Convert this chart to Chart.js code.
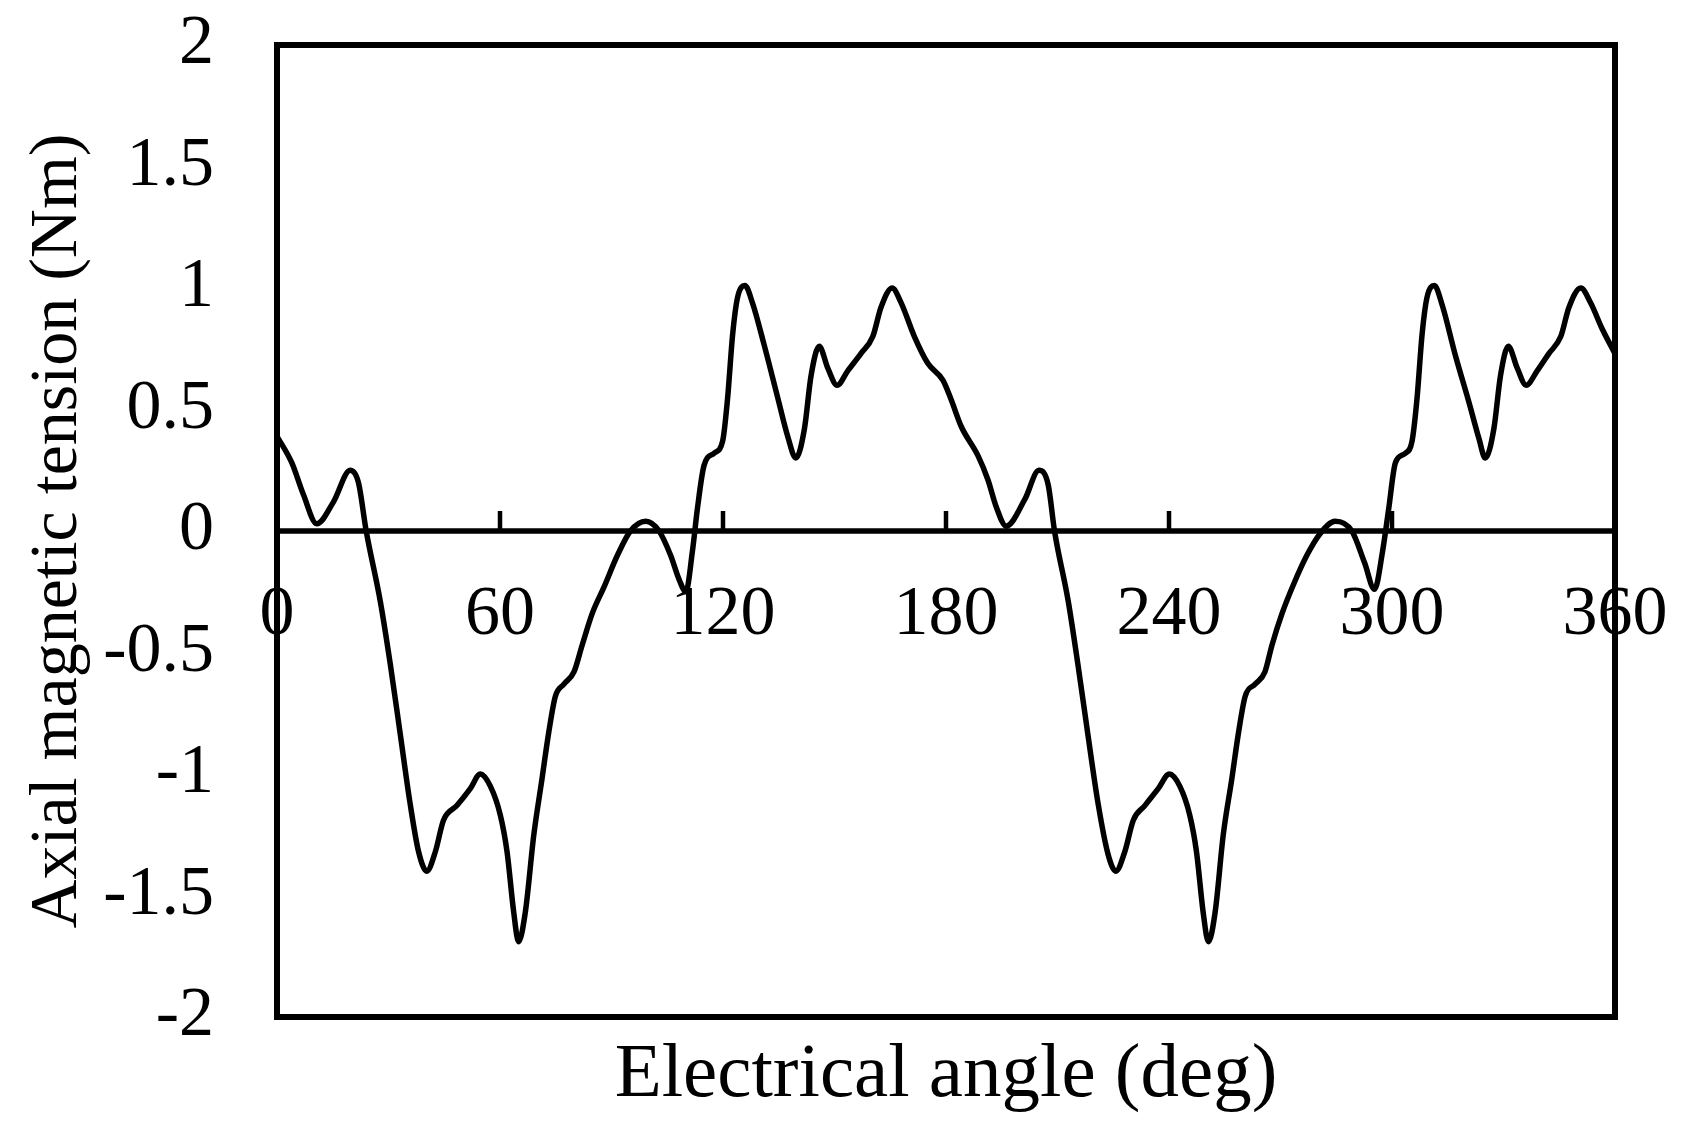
<!DOCTYPE html>
<html>
<head>
<meta charset="utf-8">
<script src="https://cdn.jsdelivr.net/npm/chart.js@4.4.1/dist/chart.umd.min.js"></script>
<style>
  html, body { margin: 0; padding: 0; background: #ffffff; }
  #wrap { width: 1692px; height: 1147px; }
  canvas { display: block; }
</style>
</head>
<body>
<div id="wrap"><canvas id="c" width="1692" height="1147"></canvas></div>
<script>
// ---- data ----
const angles = [
  0, 4.0, 7.1, 10.7, 15.2, 19.7, 21.9, 24.0, 27.8, 30.5, 33.2, 35.8, 38.1, 40.3, 42.6, 44.8,
  48.4, 52.0, 54.7, 57.4, 60.1, 61.9, 63.7, 65.0, 66.8, 69.1, 71.3, 73.1, 74.9, 77.2, 79.9,
  82.1, 84.8, 88.0, 91.6, 95.1, 99.2, 102.8, 105.9, 108.2, 110.0, 111.8, 113.1, 114.9, 117.6,
  119.9, 121.2, 122.6, 123.9, 125.9, 127.9, 131.0, 134.7, 137.4, 139.6, 141.9, 143.7, 145.9,
  148.2, 150.7, 153.6, 157.1, 160.3, 162.5, 165.5, 167.9, 171.5, 175.1, 179.2, 181.4, 184.1,
  188.6, 191.3, 193.5, 196.2, 201.2, 205.0, 207.5, 209.2, 212.9, 215.5, 218.2, 220.9, 223.6,
  225.7, 228.1, 230.4, 233.5, 237.1, 240.1, 242.9, 245.6, 247.4, 249.2, 250.6, 252.4, 254.6,
  256.9, 258.7, 260.5, 263.2, 265.8, 267.7, 270.4, 273.5, 277.1, 280.7, 284.7, 289.2, 292.6,
  295.3, 297.5, 299.1, 300.9, 303.6, 305.4, 306.7, 308.1, 309.4, 311.4, 313.5, 317.1, 320.7,
  323.4, 325.1, 327.4, 329.2, 331.3, 333.7, 336.1, 339.1, 342.2, 345.4, 347.6, 350.8, 353.4,
  356.6, 360
];
const tension = [
  0.39, 0.28, 0.15, 0.03, 0.12, 0.25, 0.20, 0.00, -0.29, -0.55, -0.84, -1.12, -1.32, -1.40, -1.32, -1.19,
  -1.13, -1.06, -1.00, -1.05, -1.17, -1.32, -1.57, -1.69, -1.57, -1.25, -1.02, -0.83, -0.68, -0.63, -0.58,
  -0.47, -0.34, -0.23, -0.10, 0.00, 0.04, 0.00, -0.10, -0.20, -0.25, -0.08, 0.09, 0.27, 0.32,
  0.37, 0.54, 0.81, 0.96, 1.01, 0.94, 0.77, 0.55, 0.39, 0.30, 0.42, 0.64, 0.76,
  0.67, 0.60, 0.66, 0.73, 0.80, 0.92, 1.00, 0.94, 0.80, 0.69, 0.62, 0.54, 0.43,
  0.31, 0.21, 0.10, 0.02, 0.13, 0.25, 0.19, 0.00, -0.29, -0.55, -0.84, -1.12, -1.33,
  -1.40, -1.32, -1.19, -1.13, -1.06, -1.00, -1.05, -1.17, -1.32, -1.57, -1.69, -1.57, -1.25,
  -1.02, -0.83, -0.68, -0.63, -0.58, -0.47, -0.34, -0.22, -0.10, -0.01, 0.04, 0.00, -0.13,
  -0.24, -0.08, 0.09, 0.28, 0.32, 0.37, 0.54, 0.81, 0.96, 1.01, 0.93, 0.72, 0.53,
  0.38, 0.30, 0.42, 0.64, 0.76, 0.67, 0.60, 0.66, 0.73, 0.80, 0.92, 1.00, 0.94,
  0.83, 0.73
];
const xTickValues = [0, 60, 120, 180, 240, 300, 360];
const yTickValues = [-2, -1.5, -1, -0.5, 0, 0.5, 1, 1.5, 2];
const xTitle = 'Electrical angle (deg)';
const yTitle = 'Axial magnetic tension (Nm)';

// ---- chart ----
Chart.defaults.font.family = "'Liberation Serif', 'Times New Roman', serif";
Chart.defaults.color = '#000000';

const points = angles.map((a, i) => ({ x: a, y: tension[i] }));

const framePlugin = {
  id: 'frame',
  beforeDatasetsDraw(chart) {
    const { ctx, chartArea: ca, scales } = chart;
    const y0 = scales.y.getPixelForValue(0);
    ctx.save();
    ctx.strokeStyle = '#000000';
    ctx.lineCap = 'butt';
    ctx.lineWidth = 5.5;
    ctx.beginPath();
    ctx.moveTo(ca.left, y0);
    ctx.lineTo(ca.right, y0);
    ctx.stroke();
    ctx.lineWidth = 4.5;
    xTickValues.forEach(v => {
      const px = scales.x.getPixelForValue(v);
      ctx.beginPath();
      ctx.moveTo(px, y0);
      ctx.lineTo(px, y0 - 20);
      ctx.stroke();
    });
    ctx.restore();
  },
  afterDatasetsDraw(chart) {
    const { ctx, chartArea: ca } = chart;
    ctx.save();
    ctx.strokeStyle = '#000000';
    ctx.lineWidth = 6;
    ctx.strokeRect(ca.left, ca.top, ca.right - ca.left, ca.bottom - ca.top);
    ctx.restore();
  }
};

new Chart(document.getElementById('c'), {
  type: 'line',
  data: {
    datasets: [{
      data: points,
      borderColor: '#000000',
      borderWidth: 5.5,
      pointRadius: 0,
      fill: false,
      cubicInterpolationMode: 'monotone',
      clip: 3
    }]
  },
  options: {
    responsive: false,
    animation: false,
    devicePixelRatio: 1,
    layout: { padding: { top: 45, right: 77, bottom: 0, left: 0 } },
    plugins: { legend: { display: false }, tooltip: { enabled: false } },
    scales: {
      x: {
        type: 'linear',
        position: { y: 0 },
        min: 0, max: 360,
        afterBuildTicks: (s) => { s.ticks = xTickValues.map(v => ({ value: v })); },
        ticks: {
          font: { size: 70 },
          color: '#000000',
          padding: 43,
          maxRotation: 0,
          autoSkip: false,
          callback: (v) => String(v)
        },
        grid: { display: false, drawTicks: false },
        border: { display: false },
        afterFit: (s) => { s.paddingLeft = 0; s.paddingRight = 0; }
      },
      xb: {
        type: 'linear',
        position: 'bottom',
        min: 0, max: 360,
        ticks: { display: false },
        grid: { display: false, drawTicks: false },
        border: { display: false },
        title: {
          display: true,
          text: xTitle,
          font: { size: 77 },
          color: '#000000',
          padding: { top: 0, bottom: 25 }
        },
        afterFit: (s) => { s.height = 130; s.paddingLeft = 0; s.paddingRight = 0; }
      },
      y: {
        type: 'linear',
        position: 'left',
        min: -2, max: 2,
        afterBuildTicks: (s) => { s.ticks = yTickValues.map(v => ({ value: v })); },
        ticks: {
          font: { size: 70 },
          color: '#000000',
          padding: 63,
          autoSkip: false,
          callback: (v) => String(Math.round(v * 10) / 10)
        },
        grid: { display: false, drawTicks: false },
        border: { display: false },
        title: {
          display: true,
          text: yTitle,
          font: { size: 68 },
          color: '#000000',
          padding: { top: 17, bottom: 0 }
        },
        afterFit: (s) => { s.width = 277; s.paddingTop = 0; s.paddingBottom = 0; }
      }
    }
  },
  plugins: [framePlugin]
});
</script>
</body>
</html>
